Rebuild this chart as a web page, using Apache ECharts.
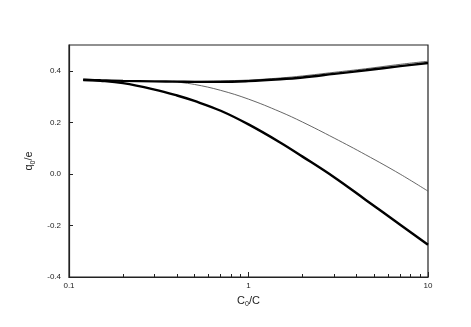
<!DOCTYPE html>
<html>
<head>
    <meta charset="UTF-8">
    <title>q0/e vs C0/C</title>
    <script src="https://cdn.jsdelivr.net/npm/echarts@6/dist/echarts.min.js"></script>
    <style>
        body { margin: 0; background: #fff; }
        #chart { width: 471px; height: 327px; }
    </style>
</head>
<body>
<div id="chart"></div>
<script>
    // data
    var xThick = [0.12, 0.15, 0.2, 0.3, 0.4, 0.5, 0.7, 1, 1.5, 2, 3, 4.5, 7, 10];
    var thickDown = [0.364, 0.361, 0.352, 0.327, 0.304, 0.283, 0.245, 0.192, 0.122, 0.067, -0.013, -0.101, -0.197, -0.275];
    var thickUp = [0.365, 0.363, 0.361, 0.359, 0.358, 0.357, 0.357, 0.360, 0.367, 0.374, 0.388, 0.402, 0.418, 0.430];
    var xThin = [0.38, 0.5, 0.7, 1, 1.5, 2, 3, 4.5, 7, 10];
    var thinDown = [0.358, 0.347, 0.324, 0.290, 0.241, 0.201, 0.139, 0.074, -0.001, -0.067];
    var thinUp = [0.359, 0.359, 0.361, 0.364, 0.372, 0.380, 0.394, 0.408, 0.425, 0.437];
    var xMajor = [0.1, 1, 10];
    var xMinor = [0.2, 0.3, 0.4, 0.5, 0.6, 0.7, 0.8, 0.9, 2, 3, 4, 5, 6, 7, 8, 9];
    var yTicks = [-0.4, -0.2, 0, 0.2, 0.4];

    function pairs(xs, ys) {
        return xs.map(function (x, i) { return [x, ys[i]]; });
    }

    var font = 'Liberation Sans';
    var chart = echarts.init(document.getElementById('chart'));
    chart.setOption({
        animation: false,
        grid: {
            left: 69, right: 43, top: 45, bottom: 50,
            show: true, borderColor: '#222', borderWidth: 1.2
        },
        xAxis: [{
            type: 'log', logBase: 10, min: 0.1, max: 10,
            name: '{a|C}{s|0}{a|/C}', nameLocation: 'middle', nameGap: 16,
            nameTextStyle: {
                rich: {
                    a: { fontFamily: font, fontSize: 11, color: '#222' },
                    s: { fontFamily: font, fontSize: 7, color: '#222', padding: [8, 0, 0, 0] }
                }
            },
            axisLine: { onZero: false, lineStyle: { color: '#222', width: 1.2 } },
            axisTick: { inside: true, length: 5, customValues: xMajor, lineStyle: { color: '#222' } },
            axisLabel: { customValues: xMajor, fontFamily: font, fontSize: 8, color: '#222', margin: 5 },
            splitLine: { show: false },
            minorTick: { show: false }
        }, {
            type: 'log', logBase: 10, min: 0.1, max: 10, position: 'bottom',
            axisLine: { show: false, onZero: false },
            axisTick: { inside: true, length: 3, customValues: xMinor, lineStyle: { color: '#222' } },
            axisLabel: { show: false },
            splitLine: { show: false }
        }],
        yAxis: {
            type: 'value', min: -0.4, max: 0.5,
            name: '{a|q}{s|0}{a|/e}', nameLocation: 'middle', nameGap: 25, nameRotate: 90,
            nameTextStyle: {
                rich: {
                    a: { fontFamily: font, fontSize: 11, color: '#222' },
                    s: { fontFamily: font, fontSize: 7, color: '#222', padding: [8, 0, 0, 0] }
                }
            },
            axisLine: { lineStyle: { color: '#222', width: 1.2 } },
            axisTick: { inside: true, length: 4, customValues: yTicks, lineStyle: { color: '#222' } },
            axisLabel: {
                customValues: yTicks, fontFamily: font, fontSize: 8, color: '#222', margin: 8,
                formatter: function (v) { return v.toFixed(1); }
            },
            splitLine: { show: false }
        },
        series: [{
            type: 'line', smooth: 0.4, symbol: 'none',
            data: pairs(xThick, thickDown),
            lineStyle: { color: '#000', width: 2.4 }
        }, {
            type: 'line', smooth: 0.4, symbol: 'none',
            data: pairs(xThin, thinDown),
            lineStyle: { color: '#555', width: 0.9 }
        }, {
            type: 'line', smooth: 0.4, symbol: 'none',
            data: pairs(xThin, thinUp),
            lineStyle: { color: '#555', width: 0.9 }
        }, {
            type: 'line', smooth: 0.4, symbol: 'none',
            data: pairs(xThick, thickUp),
            lineStyle: { color: '#000', width: 2.4 }
        }]
    });
</script>
</body>
</html>
